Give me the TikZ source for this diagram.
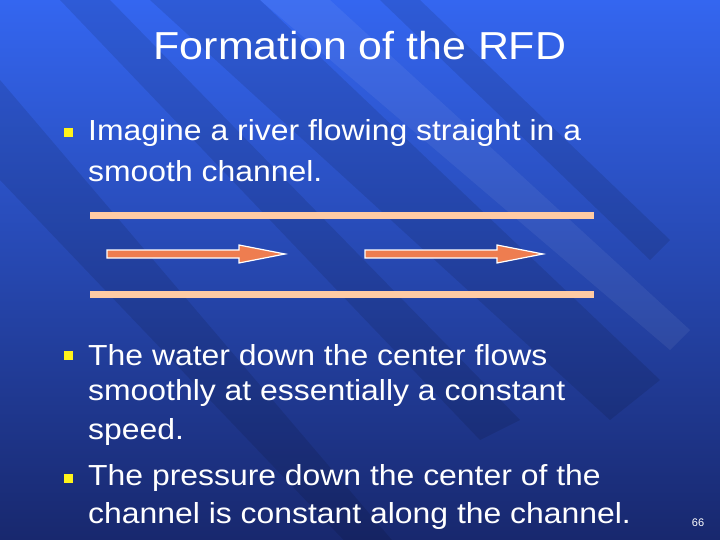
\documentclass[tikz,border=0pt]{standalone}
\usepackage{fontspec}
\setmainfont{Liberation Sans}
\definecolor{arrc}{RGB}{238,125,80}
\definecolor{chc}{RGB}{255,203,164}
\begin{document}
\begin{tikzpicture}[x=1pt,y=-1pt,
  txt/.style={anchor=west,text=white,font=\fontsize{29}{32}\selectfont,inner sep=0,xscale=1.1},
  bul/.style={fill=yellow!90!white,minimum size=9pt,inner sep=0},
  chan/.style={draw=chc,line width=7pt},
  arr/.style={fill=arrc,draw=white,line width=1.2pt},
  dstripe/.style={fill=black,opacity=0.10},
  lstripe/.style={fill=white,opacity=0.06}]
\shade[top color={rgb,255:red,52;green,102;blue,240},bottom color={rgb,255:red,24;green,40;blue,110}] (0,0) rectangle (720,540);
\useasboundingbox (0,0) rectangle (720,540);
\fill[dstripe] (60,0) -- (110,0) -- (520,420) -- (480,440) -- cycle;
\fill[dstripe] (150,0) -- (260,0) -- (660,380) -- (610,420) -- cycle;
\fill[dstripe] (0,80) -- (0,180) -- (420,620) -- (460,620) -- cycle;
\fill[lstripe] (260,0) -- (330,0) -- (690,330) -- (670,350) -- cycle;
\fill[dstripe] (380,0) -- (420,0) -- (670,240) -- (650,260) -- cycle;
\node[text=white,font=\fontsize{39}{42}\selectfont,xscale=1.1] (title) at (360,46) {Formation of the RFD};
\node[bul] (b1) at (68,133) {};
\node[txt] (t1a) at (88,133) {Imagine a river flowing straight in a};
\node[txt] (t1b) at (88,171) {smooth channel.};
\coordinate (c1a) at (90,216); \coordinate (c1b) at (594,216);
\coordinate (c2a) at (90,294); \coordinate (c2b) at (594,294);
\draw[chan] (c1a) -- (c1b);
\draw[chan] (c2a) -- (c2b);
\filldraw[arr] (107,250) -- (239,250) -- (239,245) -- (285,254) -- (239,263) -- (239,258) -- (107,258) -- cycle;
\filldraw[arr] (365,250) -- (497,250) -- (497,245) -- (543,254) -- (497,263) -- (497,258) -- (365,258) -- cycle;
\node[bul] (b2) at (68,355) {};
\node[txt] (t2a) at (88,355) {The water down the center flows};
\node[txt] (t2b) at (88,393) {smoothly at essentially a constant};
\node[txt] (t2c) at (88,432) {speed.};
\node[bul] (b3) at (68,478) {};
\node[txt] (t3a) at (88,478) {The pressure down the center of the};
\node[txt] (t3b) at (88,516) {channel is constant along the channel.};
\node[text=white,font=\fontsize{11}{12}\selectfont] (pg) at (698,523) {66};
\end{tikzpicture}
\end{document}
